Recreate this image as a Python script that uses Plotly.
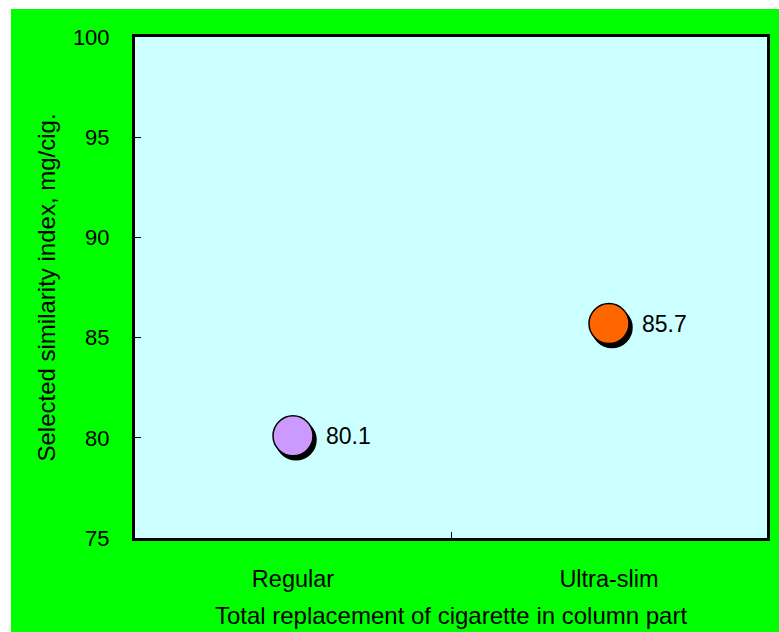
import plotly.graph_objects as go

# Data
categories = ["Regular", "Ultra-slim"]
values = [80.1, 85.7]
colors = ["#CC99FF", "#FF6600"]
y_ticks = [75, 80, 85, 90, 95, 100]

FONT = "Liberation Sans, Arial, sans-serif"
W, H = 779, 632
L, R, T, B = 135, 12, 37, 94
plot_w = W - L - R
plot_h = H - T - B

x_range = [-0.5, 1.5]
y_range = [75, 100]

# drop-shadow offset in pixels (right, down)
sdx, sdy = 3, 4
ux = (x_range[1] - x_range[0]) / plot_w
uy = (y_range[1] - y_range[0]) / plot_h

fig = go.Figure()

# base axes carry ticks and titles only
fig.add_trace(go.Scatter(
    x=categories, y=values, mode="none",
    hoverinfo="skip", showlegend=False,
))

# shadow circles on an overlaid axis pair shifted by a few pixels
fig.add_trace(go.Scatter(
    x=categories, y=values, xaxis="x2", yaxis="y2",
    mode="markers",
    marker=dict(size=40, color="black", line=dict(width=1.5, color="black")),
    hoverinfo="skip", showlegend=False,
))

# coloured markers on top
fig.add_trace(go.Scatter(
    x=categories, y=values, xaxis="x3", yaxis="y3",
    mode="markers",
    marker=dict(size=40, color=colors, line=dict(width=1.5, color="black")),
    showlegend=False,
))

for c, v in zip(categories, values):
    fig.add_annotation(
        x=c, y=v, text=f"{v:.1f}", showarrow=False,
        xanchor="left", yanchor="middle", xshift=31,
        font=dict(family=FONT, size=23, color="black"),
    )

# green chart area and cyan plot area
px0 = (11 - L) / plot_w
px1 = (W - L) / plot_w
py1 = (H - B - 9) / plot_h
py0 = (H - B - H) / plot_h
fig.add_shape(type="rect", xref="paper", yref="paper",
              x0=px0, x1=px1, y0=py0, y1=py1,
              fillcolor="#00FF00", line=dict(width=0), layer="below")
fig.add_shape(type="rect", xref="paper", yref="paper",
              x0=0, x1=1, y0=0, y1=1,
              fillcolor="#CCFFFF", line=dict(width=0), layer="below")

fig.update_layout(
    width=W, height=H,
    margin=dict(l=L, r=R, t=T, b=B, pad=0, autoexpand=False),
    paper_bgcolor="white",
    plot_bgcolor="#CCFFFF",
    font=dict(family=FONT, size=22, color="black"),
    xaxis=dict(
        type="category", categoryarray=categories, range=x_range,
        automargin=False,
        showgrid=False, zeroline=False,
        showline=True, linecolor="black", linewidth=3, mirror=True,
        ticks="inside", ticklen=6, tickwidth=1, tickcolor="black",
        tickson="boundaries", ticklabelstandoff=18,
        tickfont=dict(size=23.5),
        title=dict(text="Total replacement of cigarette in column part",
                   font=dict(size=24), standoff=16),
    ),
    yaxis=dict(
        range=y_range, tickvals=y_ticks,
        automargin=False,
        showgrid=False, zeroline=False,
        showline=True, linecolor="black", linewidth=3, mirror=True,
        ticks="inside", ticklen=6, tickwidth=1, tickcolor="black",
        ticklabelstandoff=18,
        tickfont=dict(size=22),
        title=dict(text="Selected similarity index, mg/cig.",
                   font=dict(size=24), standoff=11),
    ),
    xaxis2=dict(
        type="category", categoryarray=categories,
        range=[x_range[0] - sdx * ux, x_range[1] - sdx * ux],
        overlaying="x", visible=False,
    ),
    yaxis2=dict(
        range=[y_range[0] + sdy * uy, y_range[1] + sdy * uy],
        overlaying="y", visible=False,
    ),
    xaxis3=dict(
        type="category", categoryarray=categories, range=x_range,
        overlaying="x", visible=False,
    ),
    yaxis3=dict(
        range=y_range, overlaying="y", visible=False,
    ),
)

fig.write_html("out.html")
